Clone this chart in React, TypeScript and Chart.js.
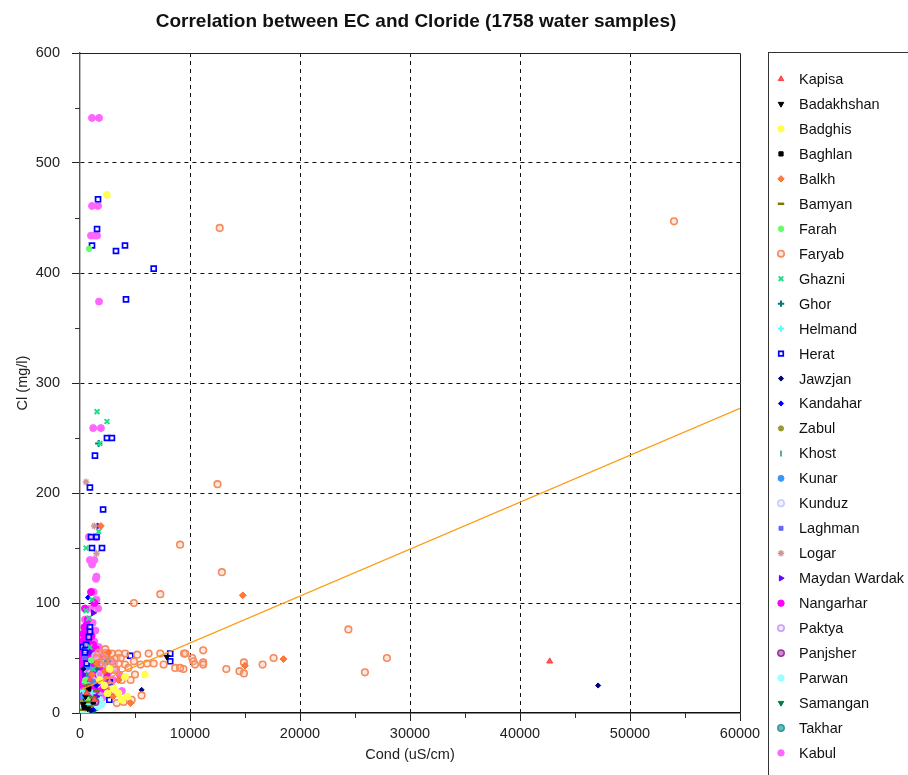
import React, { useEffect, useRef } from "react";
import { Chart, registerables } from "chart.js";
import { drawPoint } from "chart.js/helpers";

Chart.register(...registerables);

type P = [number, number];

const TITLE = "Correlation between EC and Cloride (1758 water samples)";
const X_LABEL = "Cond (uS/cm)";
const Y_LABEL = "Cl (mg/l)";
const X_MIN = 0;
const X_MAX = 60000;
const X_STEP = 10000;
const X_MINOR = 5000;
const Y_MIN = 0;
const Y_MAX = 600;
const Y_STEP = 100;
const Y_MINOR = 50;

const provinces = [
  "Kapisa", "Badakhshan", "Badghis", "Baghlan", "Balkh", "Bamyan", "Farah", "Faryab",
  "Ghazni", "Ghor", "Helmand", "Herat", "Jawzjan", "Kandahar", "Zabul", "Khost",
  "Kunar", "Kunduz", "Laghman", "Logar", "Maydan Wardak", "Nangarhar", "Paktya",
  "Panjsher", "Parwan", "Samangan", "Takhar", "Kabul",
];

const kapisa: P[] = [[42700, 47], [600, 18], [900, 30], [1300, 12]];
const badakhshan: P[] = [[300, 8], [500, 15], [700, 4], [7900, 51]];
const badghis: P[] = [[2450, 471], [5900, 35], [4100, 33], [3800, 12], [3060, 22], [3500, 18], [2200, 25], [2700, 40], [1800, 30], [4300, 15], [2500, 18]];
const baghlan: P[] = [[400, 5], [800, 22], [1200, 10]];
const balkh: P[] = [[14800, 107], [18500, 49], [15000, 43], [1900, 170], [3500, 30], [4600, 9], [2200, 38], [1500, 45], [3000, 15], [2600, 55], [1100, 35]];
const bamyan: P[] = [[300, 3], [600, 10], [900, 6], [1200, 14], [700, 25], [1500, 20]];
const farah: P[] = [[820, 422], [500, 30], [1000, 48], [700, 12]];
const faryab: P[] = [
  [54000, 447], [12700, 441], [12500, 208], [9100, 153], [12900, 128], [7300, 108], [4900, 100],
  [24400, 76], [27900, 50], [25900, 37], [9450, 54], [11200, 57], [9400, 40], [10200, 50], [10300, 47],
  [10450, 44], [11200, 46], [11200, 44], [13300, 40], [14500, 38], [14900, 36], [14900, 46], [16600, 44],
  [17600, 50], [2000, 53], [2450, 54], [2900, 54], [3500, 54], [4100, 54], [5200, 53], [6240, 54],
  [7300, 54], [7600, 44], [8650, 41], [9100, 41], [9570, 54], [2900, 47], [3500, 45], [4100, 44],
  [4900, 47], [5500, 44], [6100, 45], [6700, 45], [3200, 39], [4400, 41], [3800, 30], [4600, 30],
  [5000, 35], [3350, 9], [3970, 10], [3060, 19], [5600, 16], [4700, 12], [1500, 50], [1800, 45],
  [2200, 48], [2600, 42], [1700, 55], [2400, 30], [2800, 25], [3300, 50], [3700, 50], [2300, 58],
];
const ghazni: P[] = [[1550, 274], [2450, 265], [1800, 245], [1700, 165], [550, 150], [1100, 103], [550, 93], [800, 86], [900, 60], [1200, 40], [600, 20]];
const ghor: P[] = [[1700, 245], [1500, 40], [2500, 47], [800, 15]];
const helmand: P[] = [[300, 20], [700, 8], [1100, 18], [500, 28]];
const herat: P[] = [
  [1640, 467], [1550, 440], [1090, 425], [3270, 420], [4090, 425], [6700, 404], [4180, 376],
  [2450, 250], [2900, 250], [1360, 234], [900, 205], [2100, 185], [1500, 160], [1000, 160],
  [1090, 150], [2000, 150], [900, 78], [900, 74], [800, 69], [250, 60], [545, 62], [485, 57],
  [4580, 52], [8200, 54], [8200, 47], [2700, 28], [2670, 12], [450, 55], [600, 45],
];
const jawzjan: P[] = [[47100, 25], [5600, 21], [300, 40], [1000, 2]];
const kandahar: P[] = [[730, 105], [1200, 3], [500, 12], [1500, 25]];
const zabul: P[] = [[200, 10], [900, 3], [400, 28]];
const khost: P[] = [[600, 35], [1000, 8]];
const kunar: P[] = [[300, 15], [700, 42], [1200, 28]];
const kunduz: P[] = [[600, 40], [1100, 30], [1800, 35], [2200, 45], [1400, 52], [3000, 42], [4500, 52]];
const laghman: P[] = [[400, 50], [900, 35]];
const logar: P[] = [[550, 210], [1500, 145], [1300, 170], [700, 30]];
const maydanWardak: P[] = [[1200, 91], [1700, 170], [400, 35], [1000, 55], [1500, 15], [300, 8], [800, 42]];
const nangarhar: P[] = [
  [100, 30], [200, 45], [300, 52], [400, 38], [500, 60], [600, 22], [700, 48], [800, 35], [900, 55],
  [1000, 42], [1100, 25], [1200, 50], [1300, 38], [1400, 30], [1500, 48], [1600, 40], [1700, 28],
  [1800, 35], [2000, 40], [2200, 30], [150, 15], [250, 25], [350, 62], [450, 44], [550, 33], [650, 57],
  [750, 18], [850, 40], [950, 28], [1050, 45], [1150, 60], [1250, 35], [1350, 52], [1450, 20],
  [1550, 33], [1650, 45], [200, 35], [400, 20], [600, 50], [800, 27], [1000, 35], [1200, 43],
  [300, 10], [500, 5], [700, 55], [900, 15], [1100, 52], [1300, 27], [1500, 38], [100, 55], [350, 30],
  [650, 40], [950, 47], [1250, 17], [1750, 50], [2400, 35], [2100, 22], [2600, 28], [550, 68],
  [850, 63], [1050, 70], [400, 78], [700, 85], [450, 95], [1000, 110], [1300, 100],
  [150, 48], [250, 58], [350, 40], [450, 28], [550, 50], [750, 30], [850, 52], [1150, 38],
  [1350, 44], [1450, 58], [1600, 52], [1900, 44], [2300, 40], [100, 42], [200, 65], [1200, 62],
  [700, 66], [900, 72], [600, 80], [300, 72],
];
const paktya: P[] = [[500, 45], [1300, 58], [2000, 20], [900, 20]];
const panjsher: P[] = [[700, 15], [1400, 10], [2300, 20], [400, 60]];
const parwan: P[] = [
  [100, 5], [300, 12], [500, 8], [700, 16], [900, 10], [1100, 5], [1300, 20], [200, 20], [400, 3],
  [600, 25], [800, 5], [1000, 14], [1200, 8], [1400, 17], [1600, 6], [1800, 12], [150, 10], [350, 22],
  [550, 15], [750, 2], [950, 22], [1150, 17], [250, 2], [450, 18], [650, 6], [850, 20], [1050, 9],
  [1250, 24], [1500, 12], [2000, 8], [100, 15], [300, 28], [500, 20], [700, 10], [900, 26],
  [1100, 12], [1300, 8], [1700, 22],
];
const samangan: P[] = [[1500, 48], [1200, 45], [1700, 42], [900, 40], [600, 5], [1000, 12], [300, 2], [2100, 47], [1800, 38], [800, 50], [400, 10], [1300, 3], [150, 5], [1100, 22]];
const takhar: P[] = [[200, 3], [500, 2], [800, 8], [1100, 3], [400, 6], [700, 1], [1400, 5], [1000, 20], [1700, 18], [300, 15], [100, 10], [600, 12], [900, 1]];
const kabul: P[] = [
  [1090, 541], [1730, 541], [1090, 461], [1640, 461], [1000, 434], [1300, 434], [1550, 434],
  [1730, 374], [1200, 259], [1900, 259], [800, 160], [1500, 160], [900, 139], [1300, 139],
  [1100, 135], [1500, 124], [1450, 122], [1650, 95], [1500, 103],
  [200, 40], [400, 55], [600, 30], [800, 45], [1000, 60], [1200, 25], [1400, 55], [1600, 35],
  [1800, 50], [2000, 30], [2200, 42], [2500, 35], [3000, 30], [2800, 48], [300, 25], [500, 48],
  [700, 38], [900, 22], [1100, 45], [1300, 65], [1500, 30], [1700, 60], [1900, 25], [2300, 55],
  [2600, 20], [3300, 40], [3600, 35], [100, 60], [150, 70], [450, 85], [750, 72], [950, 95],
  [1150, 82], [1250, 110], [1400, 75], [600, 12], [850, 5], [1350, 7], [3800, 20],
  [2000, 45], [2400, 48], [2700, 38], [3100, 45], [1600, 20], [1900, 12], [2200, 15], [500, 35],
  [1000, 28], [1400, 40], [1800, 25], [800, 58],
];

const seriesData: P[][] = [
  kapisa, badakhshan, badghis, baghlan, balkh, bamyan, farah, faryab, ghazni, ghor, helmand,
  herat, jawzjan, kandahar, zabul, khost, kunar, kunduz, laghman, logar, maydanWardak, nangarhar,
  paktya, panjsher, parwan, samangan, takhar, kabul,
];

const trendX = [0, 60000];
const trendY = [21, 277];

type Sty = { stroke: string; fill: string; shape: any; r: number; bw: number; rot?: number };
const styles: Sty[] = [
  { stroke: "#ff3b3b", fill: "#ff5a5a", shape: "triangle", r: 3.4, bw: 1 },
  { stroke: "#000000", fill: "#000000", shape: "triangle", r: 3.2, bw: 1, rot: 180 },
  { stroke: "#ffff44", fill: "#ffff55", shape: "circle", r: 3.4, bw: 1 },
  { stroke: "#000000", fill: "#000000", shape: "rect", r: 3, bw: 1 },
  { stroke: "#ff6a2a", fill: "#ff7a3a", shape: "rectRot", r: 3.4, bw: 1 },
  { stroke: "#7a7a00", fill: "#7a7a00", shape: "line", r: 3.5, bw: 2.5 },
  { stroke: "#66ff66", fill: "#66ff66", shape: "circle", r: 2.8, bw: 1 },
  { stroke: "#f58a5c", fill: "rgba(255,190,160,0.35)", shape: "circle", r: 3.3, bw: 1.6 },
  { stroke: "#22dd88", fill: "#22dd88", shape: "crossRot", r: 3.4, bw: 2 },
  { stroke: "#007a7a", fill: "#007a7a", shape: "cross", r: 3.6, bw: 2 },
  { stroke: "#55ffff", fill: "#55ffff", shape: "cross", r: 3.6, bw: 2 },
  { stroke: "#0000ff", fill: "rgba(255,255,255,0.6)", shape: "rect", r: 3.5, bw: 1.7 },
  { stroke: "#000080", fill: "#000080", shape: "rectRot", r: 2.6, bw: 1 },
  { stroke: "#0000ff", fill: "#0000ff", shape: "rectRot", r: 2.6, bw: 1 },
  { stroke: "#999933", fill: "#999933", shape: "circle", r: 2.6, bw: 1 },
  { stroke: "#339988", fill: "#339988", shape: "line", r: 3, bw: 1.6, rot: 90 },
  { stroke: "#3399ff", fill: "#3399ff", shape: "circle", r: 3, bw: 1 },
  { stroke: "#c8c8ff", fill: "rgba(230,230,255,0.5)", shape: "circle", r: 3.3, bw: 1.5 },
  { stroke: "#6666ff", fill: "#6666ff", shape: "rect", r: 2.8, bw: 1 },
  { stroke: "#cc9999", fill: "#cc9999", shape: "star", r: 3.4, bw: 1.4 },
  { stroke: "#6600ff", fill: "#6600ff", shape: "triangle", r: 3.5, bw: 1, rot: 90 },
  { stroke: "#ff00ff", fill: "#ff00ff", shape: "circle", r: 3.5, bw: 1 },
  { stroke: "#cc99ff", fill: "rgba(235,215,255,0.6)", shape: "circle", r: 3.3, bw: 1.5 },
  { stroke: "#993399", fill: "#cc88cc", shape: "circle", r: 3.3, bw: 1.5 },
  { stroke: "#99ffff", fill: "#99ffff", shape: "circle", r: 3.4, bw: 1 },
  { stroke: "#008040", fill: "#008040", shape: "triangle", r: 3.5, bw: 1, rot: 180 },
  { stroke: "#339999", fill: "#66bbbb", shape: "circle", r: 3.3, bw: 1.5 },
  { stroke: "#ff66ff", fill: "#ff66ff", shape: "circle", r: 3.5, bw: 1 },
];

const FONT = "'Liberation Sans', Arial, sans-serif";

const decorPlugin = {
  id: "decor",
  afterDraw(chart: any) {
    const { ctx, chartArea, scales } = chart;
    const xs = scales.x;
    const ys = scales.y;
    ctx.save();
    ctx.fillStyle = "#111";
    ctx.font = `bold 19px ${FONT}`;
    ctx.textAlign = "center";
    ctx.textBaseline = "middle";
    ctx.fillText(TITLE, 416, 22);
    ctx.strokeStyle = "#222";
    ctx.lineWidth = 1;
    ctx.beginPath();
    ctx.moveTo(chartArea.left, chartArea.top + 0.5);
    ctx.lineTo(chartArea.right + 0.5, chartArea.top + 0.5);
    ctx.lineTo(chartArea.right + 0.5, chartArea.bottom);
    ctx.stroke();
    ctx.strokeStyle = "#333";
    ctx.beginPath();
    for (let v = X_MIN + X_MINOR; v < X_MAX; v += X_STEP) {
      const px = Math.round(xs.getPixelForValue(v)) + 0.5;
      ctx.moveTo(px, chartArea.bottom);
      ctx.lineTo(px, chartArea.bottom + 5);
    }
    for (let v = Y_MIN + Y_MINOR; v < Y_MAX; v += Y_STEP) {
      const py = Math.round(ys.getPixelForValue(v)) + 0.5;
      ctx.moveTo(chartArea.left, py);
      ctx.lineTo(chartArea.left - 5, py);
    }
    ctx.stroke();
    ctx.strokeStyle = "#333";
    ctx.lineWidth = 1;
    ctx.strokeRect(768.5, 52.5, 200, 800);
    ctx.font = `14.5px ${FONT}`;
    ctx.textAlign = "left";
    ctx.textBaseline = "middle";
    provinces.forEach((name, i) => {
      const s = styles[i];
      const y = 79 + i * 24.96;
      ctx.fillStyle = s.fill;
      ctx.strokeStyle = s.stroke;
      ctx.lineWidth = s.bw;
      drawPoint(ctx, { pointStyle: s.shape, rotation: s.rot || 0, radius: Math.min(s.r, 3.2), borderWidth: s.bw } as any, 781, y);
      ctx.fillStyle = "#111";
      ctx.fillText(name, 799, y + 1);
    });
    ctx.restore();
  },
};

export default function App() {
  const ref = useRef<HTMLCanvasElement>(null);
  useEffect(() => {
    if (!ref.current) return;
    const datasets: any[] = seriesData.map((pts, i) => {
      const s = styles[i];
      return {
        type: "scatter",
        label: provinces[i],
        order: 1,
        data: pts.map(([x, y]) => ({ x, y })),
        pointStyle: s.shape,
        pointRadius: s.r,
        pointRotation: s.rot || 0,
        pointBorderWidth: s.bw,
        borderColor: s.stroke,
        backgroundColor: s.fill,
        pointBorderColor: s.stroke,
        pointBackgroundColor: s.fill,
      };
    });
    datasets.push({
      type: "line",
      label: "trend",
      order: 0,
      data: trendX.map((x, i) => ({ x, y: trendY[i] })),
      borderColor: "#ff9a10",
      borderWidth: 1.2,
      pointRadius: 0,
      fill: false,
    });
    const chart = new Chart(ref.current, {
      type: "scatter",
      data: { datasets },
      options: {
        responsive: false,
        animation: false,
        events: [],
        layout: { padding: { left: 0, right: 168, top: 53, bottom: 0 } },
        plugins: { legend: { display: false }, title: { display: false }, tooltip: { enabled: false } },
        scales: {
          x: {
            type: "linear",
            min: X_MIN,
            max: X_MAX,
            afterFit: (s: any) => { s.height = 62; },
            ticks: {
              stepSize: X_STEP,
              color: "#222",
              font: { family: FONT, size: 14.5 },
              padding: 4,
              maxRotation: 0,
              callback: (v: any) => String(v),
            },
            grid: {
              color: (c: any) => (c.tick && c.tick.value > X_MIN && c.tick.value < X_MAX ? "#111" : "rgba(0,0,0,0)"),
              lineWidth: 1,
              tickColor: "#222",
              tickLength: 8,
            },
            border: { display: true, color: "#111", width: 1.4, dash: [4, 4] },
            title: { display: true, text: X_LABEL, color: "#222", font: { family: FONT, size: 14.5 }, padding: { top: 0, bottom: 11 } },
          },
          y: {
            type: "linear",
            min: Y_MIN,
            max: Y_MAX,
            afterFit: (s: any) => { s.width = 80; },
            ticks: {
              stepSize: Y_STEP,
              color: "#222",
              font: { family: FONT, size: 14.5 },
              padding: 12,
              callback: (v: any) => String(v),
            },
            grid: {
              color: (c: any) => (c.tick && c.tick.value > Y_MIN && c.tick.value < Y_MAX ? "#111" : "rgba(0,0,0,0)"),
              lineWidth: 1,
              tickColor: "#222",
              tickLength: 8,
            },
            border: { display: true, color: "#555", width: 1.4, dash: [4, 4] },
            title: { display: true, text: Y_LABEL, color: "#222", font: { family: FONT, size: 14.5 }, padding: { top: 14, bottom: 0 } },
          },
        },
      },
      plugins: [decorPlugin],
    } as any);
    return () => chart.destroy();
  }, []);
  return (
    <div style={{ position: "absolute", left: 0, top: 0, width: 908, height: 775, background: "#fff" }}>
      <canvas ref={ref} width={908} height={775} />
    </div>
  );
}
